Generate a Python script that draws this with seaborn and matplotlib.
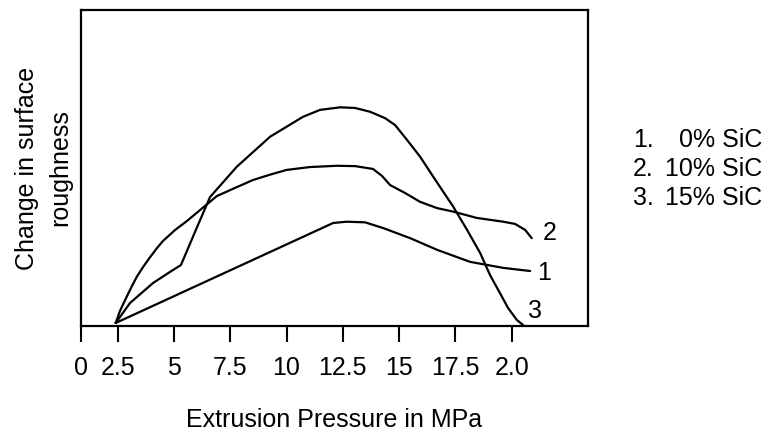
import matplotlib
matplotlib.use("Agg")
import matplotlib.pyplot as plt
import seaborn as sns
import pandas as pd

# curve points (x = pressure, y = relative roughness change)
x_0sic = [2.41, 12.07, 12.67, 13.49, 14.29, 15.49, 16.69, 18.15, 19.62, 20.82]
y_0sic = [0.95, 32.6, 33.0, 32.8, 31.0, 27.8, 24.1, 20.3, 18.4, 17.4]

x_10sic = [2.41, 2.60, 2.83, 3.09, 3.35, 3.63, 3.94, 4.25, 4.51, 5.05, 5.57, 6.16, 6.90,
           7.71, 8.51, 9.27, 10.01, 11.04, 12.23, 13.04, 13.84, 14.24, 14.60, 15.26,
           15.93, 16.69, 17.40, 18.45, 19.63, 20.15, 20.60, 20.89]
y_10sic = [0.95, 4.75, 8.23, 12.03, 15.6, 18.7, 21.8, 24.7, 26.9, 30.4, 33.2, 36.7, 41.1,
           43.7, 46.2, 47.9, 49.4, 50.3, 50.7, 50.6, 49.7, 47.5, 44.6, 42.1,
           39.3, 37.3, 36.2, 34.2, 33.0, 32.3, 30.4, 27.8]

x_15sic = [2.41, 3.05, 4.07, 4.82, 5.31, 5.93, 6.60, 7.79, 9.27, 10.73, 11.49, 12.38, 13.04,
           13.71, 14.37, 14.82, 15.35, 15.93, 16.64, 17.40, 18.02, 18.60, 19.04, 19.48,
           19.84, 20.23, 20.51]
y_15sic = [0.95, 7.3, 13.6, 17.1, 19.3, 29.7, 40.8, 50.4, 59.9, 66.2, 68.4, 69.2, 69.0,
           67.8, 65.8, 63.6, 58.9, 53.6, 45.9, 37.8, 30.4, 23.1, 16.1, 10.4,
           5.7, 1.9, 0.3]

tick_pos = [0.87, 2.5, 5, 7.5, 10, 12.5, 15, 17.5, 20]
tick_labels = ["0", "2.5", "5", "7.5", "10", "12.5", "15", "17.5", "2.0"]

curve_names = ["1", "2", "3"]
legend_lines = ["0% SiC", "10% SiC", "15% SiC"]

FS = 18

sns.set_style("white")
plt.rcParams["font.family"] = ["Liberation Sans", "DejaVu Sans"]
plt.rcParams["text.color"] = "black"
plt.rcParams["axes.labelcolor"] = "black"
plt.rcParams["xtick.color"] = "black"

fig = plt.figure(figsize=(7.65, 4.34), dpi=100)
ax = fig.add_axes([81 / 765, 1 - 326 / 434, 507 / 765, 316 / 434])

for xs, ys in [(x_0sic, y_0sic), (x_10sic, y_10sic), (x_15sic, y_15sic)]:
    df = pd.DataFrame({"x": xs, "y": ys})
    sns.lineplot(data=df, x="x", y="y", ax=ax, color="black", linewidth=1.6,
                 estimator=None, sort=False)

ax.set_xlim(0.87, 23.39)
ax.set_ylim(0, 100)
ax.set_xticks(tick_pos)
ax.set_xticklabels(tick_labels, fontsize=FS)
ax.set_yticks([])
ax.tick_params(axis="x", direction="out", length=11.5, width=1.5, pad=10,
               color="black", labelcolor="black", bottom=True)
for s in ax.spines.values():
    s.set_color("black")
    s.set_linewidth(1.6)

ax.set_xlabel("Extrusion Pressure in MPa", fontsize=FS, labelpad=20, color="black")
ax.set_ylabel("Change in surface\nroughness", fontsize=FS, labelpad=6,
              linespacing=1.5, color="black")

# curve number labels next to the line ends
ax.text(x_10sic[-1] + 0.5, y_10sic[-1] + 1.5, curve_names[1], fontsize=FS, va="center")
ax.text(x_0sic[-1] + 0.3, y_0sic[-1] - 0.5, curve_names[0], fontsize=FS, va="center")
ax.text(x_15sic[-1] + 0.2, y_15sic[-1] + 4.5, curve_names[2], fontsize=FS, va="center")

# key on the right
for i, (n, t) in enumerate(zip(curve_names, legend_lines)):
    yy = 1 - (147 + i * 29) / 434
    fig.text(633 / 765, yy, n + ".", fontsize=FS, va="baseline", ha="left")
    fig.text(762 / 765, yy, t, fontsize=FS, va="baseline", ha="right")

fig.savefig("out.png", dpi=100)
